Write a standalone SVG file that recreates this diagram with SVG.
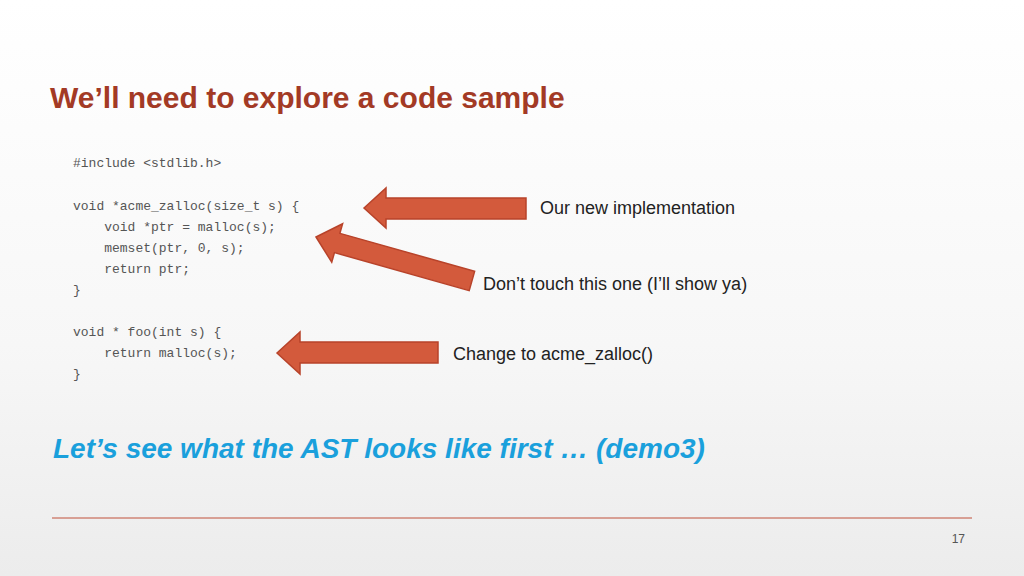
<svg xmlns="http://www.w3.org/2000/svg" width="1024" height="576" viewBox="0 0 1024 576">
<defs>
<linearGradient id="bg" x1="0" y1="0" x2="0" y2="1"><stop offset="0" stop-color="#ffffff"/><stop offset="0.6" stop-color="#f7f7f7"/><stop offset="1" stop-color="#ececec"/></linearGradient>
</defs>
<style>
.code{font-family:"Liberation Mono",monospace;font-size:13px;fill:#555;white-space:pre}
.lbl{font-family:"Liberation Sans",Arial,sans-serif;font-size:18px;fill:#222}
.arr{fill:#d35a3c;stroke:#b8432a;stroke-width:1.5}
</style>
<rect width="1024" height="576" fill="url(#bg)"/>
<text x="50" y="108" font-family="Liberation Sans,Arial,sans-serif" font-weight="bold" font-size="30" fill="#a33a25">We’ll need to explore a code sample</text>
<g id="code">
<text class="code" x="73" y="167">#include &lt;stdlib.h&gt;</text>
<text class="code" x="73" y="210">void *acme_zalloc(size_t s) {</text>
<text class="code" x="73" y="231" xml:space="preserve">    void *ptr = malloc(s);</text>
<text class="code" x="73" y="252" xml:space="preserve">    memset(ptr, 0, s);</text>
<text class="code" x="73" y="273" xml:space="preserve">    return ptr;</text>
<text class="code" x="73" y="294">}</text>
<text class="code" x="73" y="336">void * foo(int s) {</text>
<text class="code" x="73" y="357" xml:space="preserve">    return malloc(s);</text>
<text class="code" x="73" y="378">}</text>
</g>
<g id="connectors">
<polygon class="arr" points="364,208 386,188 386,198 526,198 526,219 386,219 386,228"/>
<g transform="translate(316,237) rotate(15.75)"><polygon class="arr" points="0,0 22,-20 22,-10 162,-10 162,10 22,10 22,20"/></g>
<polygon class="arr" points="277,353 300,332 300,342 438,342 438,363 300,363 300,374"/>
</g>
<g id="labels">
<text class="lbl" x="540" y="214">Our new implementation</text>
<text class="lbl" x="483" y="290">Don’t touch this one (I’ll show ya)</text>
<text class="lbl" x="453" y="360">Change to acme_zalloc()</text>
</g>
<text x="53" y="458" font-family="Liberation Sans,Arial,sans-serif" font-weight="bold" font-style="italic" font-size="28" fill="#1aa0dc">Let’s see what the AST looks like first … (demo3)</text>
<line x1="52" y1="518" x2="972" y2="518" stroke="#c0503a" stroke-width="1"/>
<text x="965" y="543" text-anchor="end" font-family="Liberation Sans,Arial,sans-serif" font-size="12" fill="#555">17</text>
</svg>
